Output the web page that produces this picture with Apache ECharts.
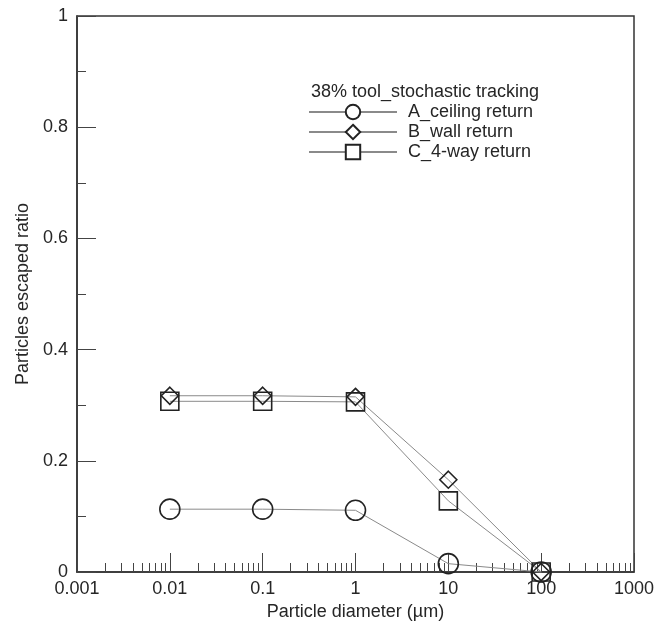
<!DOCTYPE html>
<html>
<head>
<meta charset="utf-8">
<title>Particles escaped ratio</title>
<script src="https://cdn.jsdelivr.net/npm/echarts@6/dist/echarts.min.js"></script>
<style>
  html, body { margin: 0; padding: 0; background: #fff; }
  #chart { width: 663px; height: 626px; }
</style>
</head>
<body>
<div id="chart"></div>
<script>
// particle diameter (um), log axis
const diameters = [0.01, 0.1, 1, 10, 100];
// escaped ratio per return type
const ceilingReturn = [0.113, 0.113, 0.111, 0.015, 0];
const wallReturn = [0.317, 0.317, 0.315, 0.166, 0];
const fourWayReturn = [0.307, 0.307, 0.306, 0.128, 0];

const seriesNames = ['A_ceiling return', 'B_wall return', 'C_4-way return'];
const legendTitle = '38% tool_stochastic tracking';

const font = '"Liberation Sans", Arial, Helvetica, sans-serif';
const ink = '#262626';

function pairs(ys) {
  return diameters.map(function (x, i) { return [x, ys[i]]; });
}

function makeSeries(name, ys, symbol, size) {
  return {
    name: name,
    type: 'line',
    data: pairs(ys),
    symbol: symbol,
    symbolSize: size,
    showAllSymbol: true,
    clip: false,
    lineStyle: { color: '#8a8a8a', width: 1 },
    // hollow markers, lines show through like the original
    itemStyle: { color: 'rgba(255,255,255,0)', borderColor: '#222', borderWidth: 1.6 },
    emphasis: { disabled: true },
    animation: false
  };
}

const chart = echarts.init(document.getElementById('chart'), null, { renderer: 'canvas' });

const option = {
  backgroundColor: '#fff',
  textStyle: { fontFamily: font },
  title: {
    text: legendTitle,
    left: 311,
    top: 83,
    padding: 0,
    textStyle: { fontSize: 18, fontWeight: 'normal', color: ink, fontFamily: font }
  },
  legend: {
    orient: 'vertical',
    left: 308,
    top: 103,
    padding: 0,
    itemWidth: 88,
    itemHeight: 18,
    itemGap: 2,
    data: seriesNames,
    itemStyle: { color: '#fff' },
    textStyle: { fontSize: 18, color: ink, fontFamily: font, padding: [0, 0, 0, 6] },
    selectedMode: false
  },
  grid: {
    left: 77,
    right: 29,
    top: 16,
    bottom: 54,
    show: true,
    borderColor: '#333',
    borderWidth: 1.5,
    backgroundColor: 'transparent'
  },
  xAxis: {
    type: 'log',
    logBase: 10,
    min: 0.001,
    max: 1000,
    name: 'Particle diameter (\u00b5m)',
    nameLocation: 'middle',
    nameGap: 31,
    nameTextStyle: { fontSize: 18, color: ink, fontFamily: font },
    axisLine: { lineStyle: { color: '#333', width: 1.5 } },
    axisTick: { inside: true, length: 19, lineStyle: { color: '#444', width: 1 } },
    minorTick: { show: true, splitNumber: 9, length: 9, lineStyle: { color: '#444', width: 1 } },
    splitLine: { show: false },
    axisLabel: {
      fontSize: 18,
      color: ink,
      margin: 8,
      formatter: function (v) { return String(v); }
    }
  },
  yAxis: {
    type: 'value',
    min: 0,
    max: 1,
    interval: 0.2,
    name: 'Particles escaped ratio',
    nameLocation: 'middle',
    nameGap: 40,
    nameTextStyle: { fontSize: 18, color: ink, fontFamily: font },
    axisLine: { show: true, lineStyle: { color: '#333', width: 1.5 } },
    axisTick: { show: true, inside: true, length: 19, lineStyle: { color: '#444', width: 1 } },
    minorTick: { show: true, splitNumber: 2, length: 9, lineStyle: { color: '#444', width: 1 } },
    splitLine: { show: false },
    axisLabel: { fontSize: 18, color: ink, margin: 9 }
  },
  series: [
    makeSeries(seriesNames[0], ceilingReturn, 'circle', 20),
    makeSeries(seriesNames[1], wallReturn, 'diamond', 17),
    makeSeries(seriesNames[2], fourWayReturn, 'rect', 18)
  ]
};

chart.setOption(option);
</script>
</body>
</html>
